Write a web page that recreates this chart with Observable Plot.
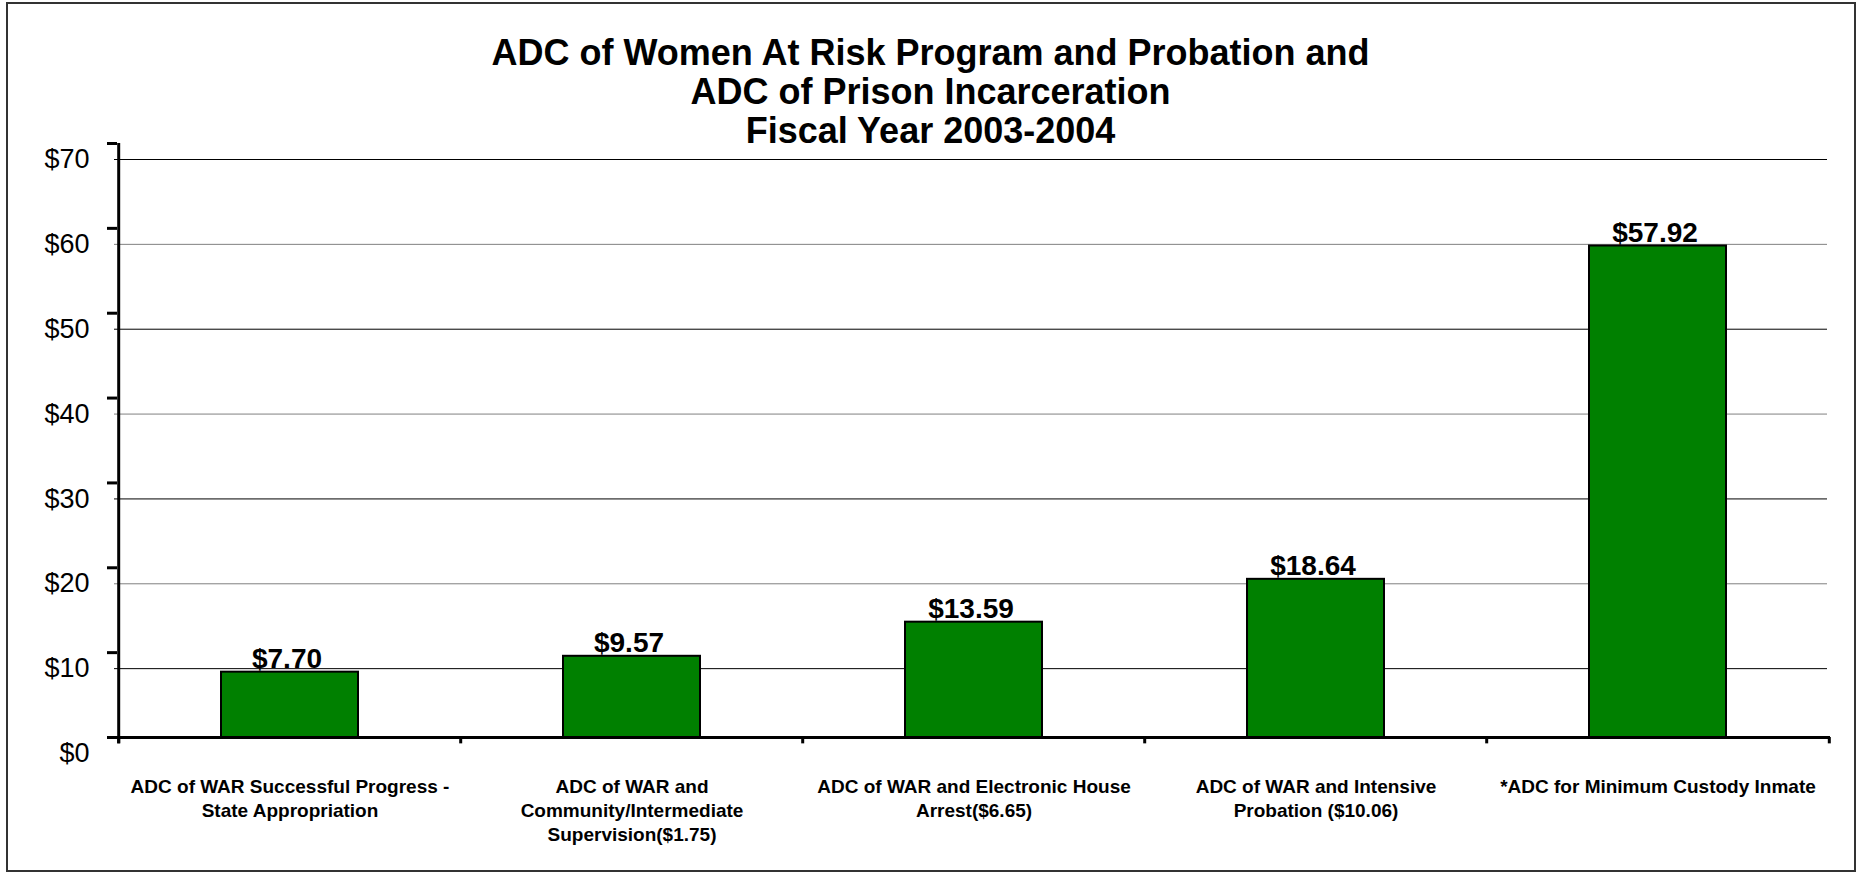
<!DOCTYPE html>
<html>
<head>
<meta charset="utf-8">
<script src="https://cdn.jsdelivr.net/npm/d3@7"></script>
<script src="https://cdn.jsdelivr.net/npm/@observablehq/plot@0.6"></script>
<style>
  html, body { margin: 0; padding: 0; background: #fff; overflow: hidden; }
  #wrap { position: relative; width: 1860px; height: 874px; }
  #border { position: absolute; left: 6px; top: 2px; width: 1846px; height: 866px; border: 2px solid #333; pointer-events: none; }
  svg { font-family: "Liberation Sans", Arial, sans-serif; }
</style>
</head>
<body>
<div id="wrap"><div id="border"></div></div>
<script>
const categories = [
  "ADC of WAR Successful Progress -\nState Appropriation",
  "ADC of WAR and\nCommunity/Intermediate\nSupervision($1.75)",
  "ADC of WAR and Electronic House\nArrest($6.65)",
  "ADC of WAR and Intensive\nProbation ($10.06)",
  "*ADC for Minimum Custody Inmate"
];
const values = [7.70, 9.57, 13.59, 18.64, 57.92];
const yTicks = [0, 10, 20, 30, 40, 50, 60, 70];
const gridTicks = [10, 20, 30, 40, 50, 60, 70];
const titleLines = "ADC of Women At Risk Program and Probation and\nADC of Prison Incarceration\nFiscal Year 2003-2004";

const data = categories.map((c, i) => ({category: c, value: values[i]}));

const W = 1860, H = 874, ML = 117, MR = 30, MT = 143, MB = 137;
const half = (W - ML - MR) / categories.length / 2;

const chart = Plot.plot({
  width: W,
  height: H,
  marginLeft: ML,
  marginRight: MR,
  marginTop: MT,
  marginBottom: MB,
  style: {fontFamily: '"Liberation Sans", Arial, sans-serif', background: "transparent"},
  x: {domain: categories, paddingInner: 0.6, paddingOuter: 0.3, axis: null},
  y: {domain: [0, 70], axis: null},
  marks: [
    Plot.ruleY(gridTicks, {y: d => d, dy: 16, stroke: (d, i) => i % 2 === 0 ? "#000" : "#808080", strokeWidth: 1, dx: -3}),
    Plot.barY(data, {x: "category", y: "value", fill: "#008000", stroke: "#000", strokeWidth: 2}),
    Plot.axisY({ticks: yTicks, tickFormat: () => "", label: null, tickSize: 10, strokeWidth: 3, stroke: "#000"}),
    Plot.text(yTicks, {y: d => d, text: d => "$" + d, frameAnchor: "left", textAnchor: "end", dx: -28, dy: 16, fontSize: 27, fill: "#000"}),
    Plot.ruleY([0], {strokeWidth: 3, stroke: "#000"}),
    Plot.ruleX(categories, {x: d => d, y1: 0, y2: -0.75, dx: -half, strokeWidth: 3, stroke: "#000"}),
    Plot.ruleX([categories[categories.length - 1]], {x: d => d, y1: 0, y2: -0.75, dx: half, strokeWidth: 3, stroke: "#000"}),
    Plot.ruleX([categories[0]], {x: d => d, y1: -0.75, y2: 70, dx: -half, strokeWidth: 3, stroke: "#000"}),
    Plot.text(data, {x: "category", y: "value", text: d => "$" + d.value.toFixed(2), lineAnchor: "bottom", dy: -4, dx: -3, fontSize: 28, fontWeight: "bold", fill: "#000"}),
    Plot.text(categories, {x: d => d, y: 0, text: d => d, lineAnchor: "top", dy: 38, fontSize: 19, fontWeight: "bold", lineHeight: 1.28, fill: "#000"}),
    Plot.text([titleLines], {frameAnchor: "top", text: d => d, lineAnchor: "middle", dy: -52, dx: -(ML - MR) / 2, fontSize: 36, fontWeight: "bold", lineHeight: 1.09, fill: "#000"})
  ]
});
document.getElementById("wrap").prepend(chart);
</script>
</body>
</html>
